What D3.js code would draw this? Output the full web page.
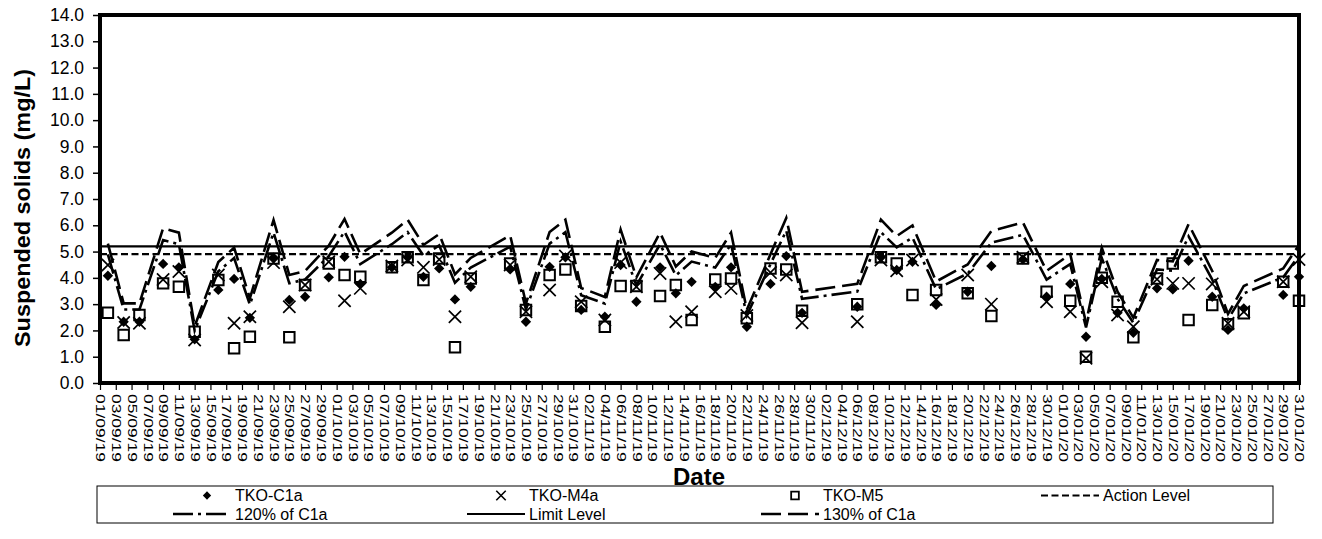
<!DOCTYPE html>
<html>
<head>
<meta charset="utf-8">
<script src="https://cdn.jsdelivr.net/npm/d3@7"></script>
<style>
  html, body { margin: 0; padding: 0; background: #fff; }
  svg { display: block; font-family: "Liberation Sans", Arial, sans-serif; }
</style>
</head>
<body>
<svg id="chart" width="1322" height="539"></svg>
<script>
// Sampling dates (dd/mm/yy)
const sampleDates = [
  "02/09/19","04/09/19","06/09/19","09/09/19","11/09/19","13/09/19","16/09/19","18/09/19","20/09/19","23/09/19","25/09/19","27/09/19","30/09/19",
  "02/10/19","04/10/19","08/10/19","10/10/19","12/10/19","14/10/19","16/10/19","18/10/19","23/10/19","25/10/19","28/10/19","30/10/19",
  "01/11/19","04/11/19","06/11/19","08/11/19","11/11/19","13/11/19","15/11/19","18/11/19","20/11/19","22/11/19","25/11/19","27/11/19","29/11/19",
  "06/12/19","09/12/19","11/12/19","13/12/19","16/12/19","20/12/19","23/12/19","27/12/19","30/12/19",
  "02/01/20","04/01/20","06/01/20","08/01/20","10/01/20","13/01/20","15/01/20","17/01/20","20/01/20","22/01/20","24/01/20","29/01/20","31/01/20"
];

// Suspended solids, mg/L
const tkoC1a = [
  4.08,2.33,2.33,4.53,4.40,1.66,3.54,3.96,2.48,4.77,3.16,3.28,4.02,
  4.80,3.77,4.40,4.78,4.04,4.36,3.18,3.66,4.32,2.33,4.42,4.78,
  2.78,2.52,4.49,3.09,4.40,3.41,3.85,3.66,4.40,2.14,3.77,4.83,2.67,
  2.90,4.78,4.30,4.61,2.97,3.47,4.45,4.70,3.28,
  3.77,1.76,3.96,2.67,1.91,3.60,3.56,4.65,3.28,2.02,2.84,3.35,4.04
];
const tkoM4a = [
  4.49,2.30,2.27,3.94,4.24,1.64,4.11,2.27,2.52,4.58,2.90,3.73,4.61,
  3.13,3.60,4.45,4.68,4.40,4.70,2.52,4.04,4.49,2.71,3.54,4.83,
  3.09,2.40,4.58,3.66,4.17,2.33,2.71,3.47,3.60,2.57,4.20,4.11,2.29,
  2.33,4.68,4.27,4.68,3.18,4.11,3.00,4.78,3.09,
  2.71,0.94,3.85,2.59,2.14,3.95,3.79,3.79,3.77,2.27,2.71,3.85,4.70
];
const tkoM5 = [
  2.67,1.83,2.59,3.79,3.66,1.95,3.92,1.32,1.76,4.74,1.74,3.73,4.55,
  4.11,4.04,4.40,4.78,3.92,4.74,1.36,3.98,4.55,2.78,4.11,4.32,
  2.93,2.14,3.69,3.69,3.31,3.73,2.40,3.94,3.98,2.46,4.36,4.32,2.75,
  3.00,4.78,4.55,3.35,3.54,3.41,2.55,4.74,3.47,
  3.13,1.00,4.00,3.09,1.74,3.98,4.55,2.40,2.97,2.24,2.65,3.85,3.13
];

// Compliance levels
const actionLevel = 4.9;
const limitLevel = 5.2;
const levelDates = ["01/09/19", "31/01/20"];

// "120% of C1a" and "130% of C1a" follow the control station readings
const pct120 = tkoC1a.map(v => v * 1.2);
const pct130 = tkoC1a.map(v => v * 1.3);

// Axis ticks
const yTicks = [0,1,2,3,4,5,6,7,8,9,10,11,12,13,14];
const xTickLabels = [
  "01/09/19","03/09/19","05/09/19","07/09/19","09/09/19","11/09/19","13/09/19","15/09/19","17/09/19","19/09/19","21/09/19","23/09/19","25/09/19","27/09/19","29/09/19",
  "01/10/19","03/10/19","05/10/19","07/10/19","09/10/19","11/10/19","13/10/19","15/10/19","17/10/19","19/10/19","21/10/19","23/10/19","25/10/19","27/10/19","29/10/19","31/10/19",
  "02/11/19","04/11/19","06/11/19","08/11/19","10/11/19","12/11/19","14/11/19","16/11/19","18/11/19","20/11/19","22/11/19","24/11/19","26/11/19","28/11/19","30/11/19",
  "02/12/19","04/12/19","06/12/19","08/12/19","10/12/19","12/12/19","14/12/19","16/12/19","18/12/19","20/12/19","22/12/19","24/12/19","26/12/19","28/12/19","30/12/19",
  "01/01/20","03/01/20","05/01/20","07/01/20","09/01/20","11/01/20","13/01/20","15/01/20","17/01/20","19/01/20","21/01/20","23/01/20","25/01/20","27/01/20","29/01/20","31/01/20"
];

const parse = d3.utcParse("%d/%m/%y");
const fmt = d3.utcFormat("%d/%m/%y");

const svg = d3.select("#chart");
const plot = { left: 100, right: 1299, top: 15, bottom: 383 };

const x = d3.scaleUtc()
  .domain([parse(levelDates[0]), parse(levelDates[1])])
  .range([plot.left, plot.right]);
const y = d3.scaleLinear().domain([0, 14]).range([plot.bottom, plot.top]);

// Y axis
const yAxis = svg.append("g")
  .attr("transform", `translate(${plot.left - 2},0)`)
  .call(d3.axisLeft(y).tickValues(yTicks).tickFormat(d3.format(".1f")).tickSize(5).tickPadding(9));
yAxis.select(".domain").remove();
yAxis.selectAll("line").attr("stroke", "#000").attr("stroke-width", 1.5);
yAxis.selectAll("text")
  .attr("fill", "#000")
  .style("font-size", "17.5px")
  .style("font-family", "'Liberation Sans', Arial, sans-serif");

// X axis
const xAxis = svg.append("g")
  .attr("transform", `translate(0,${plot.bottom + 2})`)
  .call(d3.axisBottom(x).tickValues(xTickLabels.map(parse)).tickFormat(fmt).tickSize(5).tickPadding(0));
xAxis.select(".domain").remove();
xAxis.selectAll("line").attr("stroke", "#000").attr("stroke-width", 1.2);
xAxis.selectAll("text")
  .attr("fill", "#000")
  .attr("text-anchor", "start")
  .attr("transform", "translate(0,9) rotate(90)")
  .attr("x", 0)
  .attr("y", 0)
  .attr("dy", "0.36em")
  .attr("textLength", 68)
  .attr("lengthAdjust", "spacingAndGlyphs")
  .style("font-size", "12px")
  .style("font-family", "'Liberation Sans', Arial, sans-serif");

// Axis titles
svg.append("text")
  .attr("transform", "translate(30,208) rotate(-90)")
  .attr("text-anchor", "middle")
  .attr("textLength", 278)
  .attr("lengthAdjust", "spacingAndGlyphs")
  .style("font-size", "22px")
  .style("font-weight", "bold")
  .text("Suspended solids (mg/L)");

svg.append("text")
  .attr("x", 699)
  .attr("y", 485)
  .attr("text-anchor", "middle")
  .style("font-size", "24px")
  .style("font-weight", "bold")
  .text("Date");

// Marker symbols
const diamond = d3.symbol().type(d3.symbolDiamond2).size(68);
const cross = d3.symbol().type(d3.symbolX).size(100);
const square = d3.symbol().type(d3.symbolSquare2).size(140);

const pts = sampleDates.map(parse);
const markers = svg.append("g");

function drawMarkers(values, gen, style) {
  const s = markers.append("g").selectAll("path")
    .data(values.map((v, i) => ({ d: pts[i], v })))
    .join("path")
    .attr("transform", p => `translate(${x(p.d)},${y(p.v)})`)
    .attr("d", gen);
  style(s);
}
drawMarkers(tkoC1a, diamond, s => s.attr("fill", "#000"));
drawMarkers(tkoM4a, cross, s => s.attr("fill", "none").attr("stroke", "#000").attr("stroke-width", 1.7));
drawMarkers(tkoM5, square, s => s.attr("fill", "none").attr("stroke", "#000").attr("stroke-width", 2));

// Lines
const line = d3.line().x(p => x(p.d)).y(p => y(p.v));
const lines = svg.append("g").attr("fill", "none").attr("stroke", "#000");

const levelPts = v => levelDates.map(s => ({ d: parse(s), v }));
const styles = {
  action: { dash: "7,3.5", width: 2.2 },
  p120: { dash: "20,5,3,5", width: 2.6 },
  limit: { dash: null, width: 2.2 },
  p130: { dash: "20,7", width: 2.6 }
};

lines.append("path").attr("d", line(levelPts(actionLevel)))
  .attr("stroke-width", styles.action.width).attr("stroke-dasharray", styles.action.dash);
lines.append("path").attr("d", line(pct120.map((v, i) => ({ d: pts[i], v }))))
  .attr("stroke-width", styles.p120.width).attr("stroke-dasharray", styles.p120.dash);
lines.append("path").attr("d", line(levelPts(limitLevel)))
  .attr("stroke-width", styles.limit.width);
lines.append("path").attr("d", line(pct130.map((v, i) => ({ d: pts[i], v }))))
  .attr("stroke-width", styles.p130.width).attr("stroke-dasharray", styles.p130.dash);

// Plot frame
svg.append("rect")
  .attr("x", plot.left).attr("y", plot.top)
  .attr("width", plot.right - plot.left).attr("height", plot.bottom - plot.top)
  .attr("fill", "none").attr("stroke", "#000").attr("stroke-width", 4);

// Legend
const legendBox = { x: 97, y: 486, w: 1176, h: 37 };
const lg = svg.append("g");
lg.append("rect")
  .attr("x", legendBox.x).attr("y", legendBox.y)
  .attr("width", legendBox.w).attr("height", legendBox.h)
  .attr("fill", "#fff").attr("stroke", "#000").attr("stroke-width", 1);

const legendItems = [
  { label: "TKO-C1a", kind: "marker", sym: d3.symbol().type(d3.symbolDiamond2).size(44), fill: "#000" },
  { label: "TKO-M4a", kind: "marker", sym: d3.symbol().type(d3.symbolX).size(60), stroke: 1.6 },
  { label: "TKO-M5", kind: "marker", sym: d3.symbol().type(d3.symbolSquare2).size(75), stroke: 1.8 },
  { label: "Action Level", kind: "line", st: styles.action },
  { label: "120% of C1a", kind: "line", st: styles.p120 },
  { label: "Limit Level", kind: "line", st: styles.limit },
  { label: "130% of C1a", kind: "line", st: styles.p130 }
];
// Text start of each legend column
const legendCols = [235, 529, 823, 1103];
legendItems.forEach((it, i) => {
  const col = i % 4, row = Math.floor(i / 4);
  const tx = legendCols[col];
  const cy = legendBox.y + 9.5 + row * 18.5;
  const g = lg.append("g");
  if (it.kind === "marker") {
    const p = g.append("path")
      .attr("transform", `translate(${tx - 28},${cy})`)
      .attr("d", it.sym());
    if (it.fill) p.attr("fill", it.fill);
    else p.attr("fill", "none").attr("stroke", "#000").attr("stroke-width", it.stroke);
  } else {
    g.append("line")
      .attr("x1", tx - 62).attr("x2", tx - 4)
      .attr("y1", cy).attr("y2", cy)
      .attr("stroke", "#000")
      .attr("stroke-width", it.st.width)
      .attr("stroke-dasharray", it.st.dash);
  }
  g.append("text")
    .attr("x", tx).attr("y", cy)
    .attr("dy", "0.36em")
    .style("font-size", "16px")
    .text(it.label);
});
</script>
</body>
</html>
